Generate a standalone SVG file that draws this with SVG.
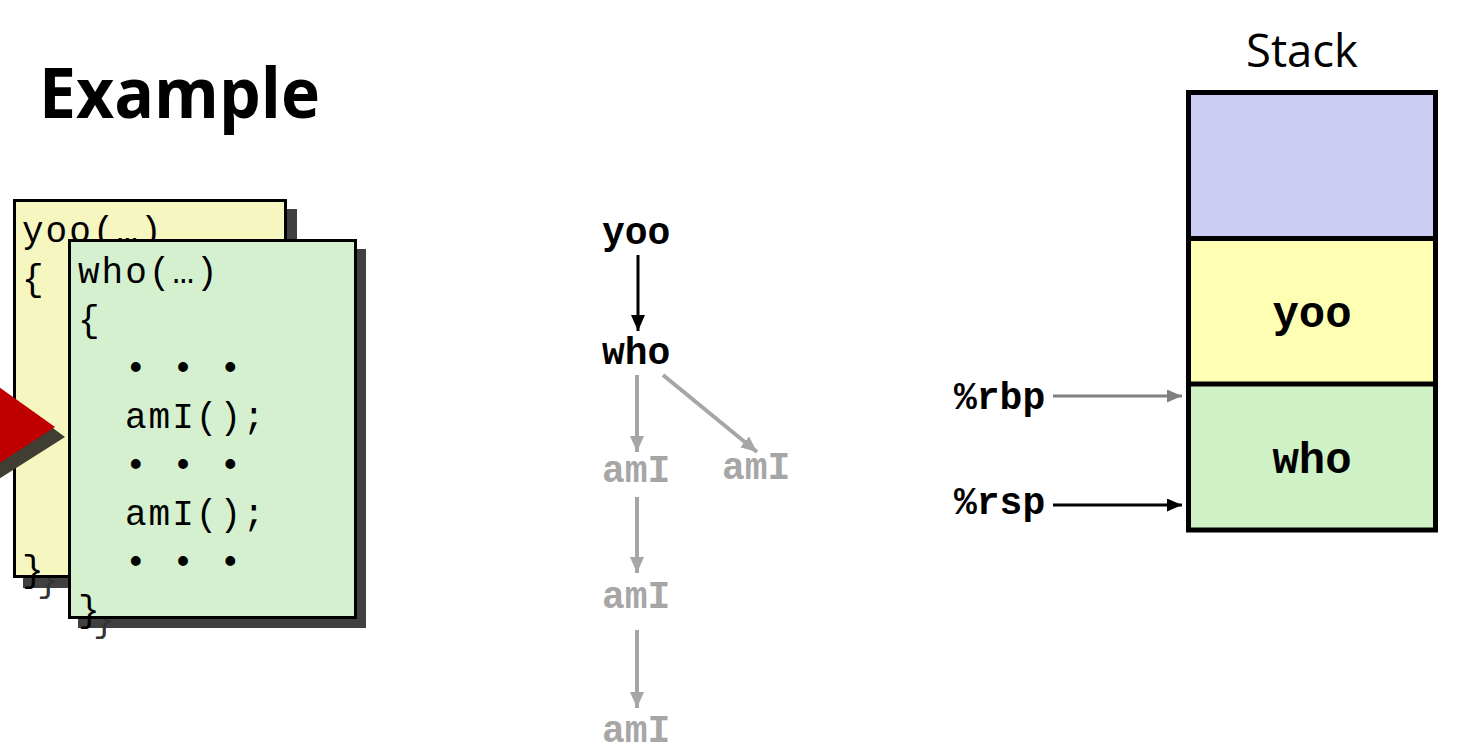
<svg xmlns="http://www.w3.org/2000/svg" width="1468" height="748" viewBox="0 0 1468 748">
<style>
.code{font-family:"Liberation Mono","Courier New",monospace;font-size:36px;letter-spacing:2px;fill:#000}
.sh{fill:#404040}
.bsh{fill:#333}
.bold{font-family:"Liberation Mono","Courier New",monospace;font-weight:bold;font-size:38px}
.gray{fill:#a6a6a6}
.big{font-family:"Liberation Mono","Courier New",monospace;font-weight:bold;font-size:44px;fill:#000}
</style>
<defs>
<marker id="ahB" markerUnits="userSpaceOnUse" markerWidth="18" markerHeight="18" refX="16" refY="7" orient="auto">
<path d="M0,0 L16,7 L0,14 Z" fill="#000"/>
</marker>
<marker id="ahG" markerUnits="userSpaceOnUse" markerWidth="18" markerHeight="18" refX="16" refY="7" orient="auto">
<path d="M0,0 L16,7 L0,14 Z" fill="#a6a6a6"/>
</marker>
<marker id="ahD" markerUnits="userSpaceOnUse" markerWidth="18" markerHeight="18" refX="15" refY="6.5" orient="auto">
<path d="M0,0 L15,6.5 L0,13 Z" fill="#808080"/>
</marker>
<marker id="ahK" markerUnits="userSpaceOnUse" markerWidth="18" markerHeight="18" refX="15" refY="6.5" orient="auto">
<path d="M0,0 L15,6.5 L0,13 Z" fill="#000"/>
</marker>
</defs>
<rect width="1468" height="748" fill="#fff"/>

<g id="title">
<text x="39" y="118" font-family="Open Sans, sans-serif" font-weight="bold" font-size="70" textLength="281" lengthAdjust="spacingAndGlyphs">Example</text>
</g>

<g id="card-yoo">
<rect x="23" y="209" width="274" height="379" class="sh"/>
<text x="37" y="591" class="code bsh">}</text>
<rect x="14.5" y="200.5" width="271" height="376" fill="#f6f6c0" stroke="#000" stroke-width="3"/>
<text x="22" y="242" class="code">yoo(…)</text>
<text x="22" y="290" class="code">{</text>
<text x="22" y="581" class="code">}</text>
</g>

<g id="pointer">
<polygon points="-50,352 65,437 -50,510" fill="#403d33"/>
<polygon points="-60,345 55,427 -60,502" fill="#c00000"/>
</g>

<g id="card-who">
<rect x="78" y="249" width="288" height="379" class="sh"/>
<text x="93" y="631" class="code bsh">}</text>
<rect x="69.5" y="240.5" width="286" height="377" fill="#d5f0cf" stroke="#000" stroke-width="3"/>
<text x="78" y="283" class="code">who(…)</text>
<text x="78" y="331" class="code">{</text>
<text x="125" y="379" class="code">• • •</text>
<text x="125" y="428" class="code">amI();</text>
<text x="125" y="476" class="code">• • •</text>
<text x="125" y="525" class="code">amI();</text>
<text x="125" y="573" class="code">• • •</text>
<text x="78" y="621" class="code">}</text>
</g>

<g id="tree-yoo"><text x="602" y="244" class="bold">yoo</text></g>
<g id="tree-who"><text x="602" y="364" class="bold">who</text></g>
<g id="tree-amI-1"><text x="602" y="482" class="bold gray">amI</text></g>
<g id="tree-amI-2"><text x="722" y="479" class="bold gray">amI</text></g>
<g id="tree-amI-3"><text x="602" y="608" class="bold gray">amI</text></g>
<g id="tree-amI-4"><text x="602" y="742" class="bold gray">amI</text></g>

<g id="stack">
<text x="1302" y="67" text-anchor="middle" font-family="Open Sans, sans-serif" font-size="46" textLength="112" lengthAdjust="spacingAndGlyphs">Stack</text>
<rect x="1188.5" y="92.5" width="247" height="146" fill="#cbcdf2"/>
<rect x="1188.5" y="238.5" width="247" height="145.5" fill="#ffffb4"/>
<rect x="1188.5" y="384" width="247" height="146" fill="#cef2c6"/>
<line x1="1188.5" y1="238.5" x2="1435.5" y2="238.5" stroke="#000" stroke-width="5"/>
<line x1="1188.5" y1="384" x2="1435.5" y2="384" stroke="#000" stroke-width="5"/>
<rect x="1188.5" y="92.5" width="247" height="437.5" fill="none" stroke="#000" stroke-width="5"/>
<text x="1312" y="327" text-anchor="middle" class="big">yoo</text>
<text x="1312" y="473" text-anchor="middle" class="big">who</text>
</g>

<g id="reg-rbp"><text x="954" y="409" class="bold">%rbp</text></g>
<g id="reg-rsp"><text x="954" y="514" class="bold">%rsp</text></g>

<g id="connectors" fill="none">
<line x1="638" y1="255" x2="638" y2="331" stroke="#000" stroke-width="3" marker-end="url(#ahB)"/>
<line x1="637" y1="375" x2="637" y2="452" stroke="#a6a6a6" stroke-width="4" marker-end="url(#ahG)"/>
<line x1="663" y1="375" x2="757" y2="452" stroke="#a6a6a6" stroke-width="4" marker-end="url(#ahG)"/>
<line x1="637" y1="497" x2="637" y2="573" stroke="#a6a6a6" stroke-width="4" marker-end="url(#ahG)"/>
<line x1="637" y1="630" x2="637" y2="708" stroke="#a6a6a6" stroke-width="4" marker-end="url(#ahG)"/>
<line x1="1053" y1="396" x2="1182" y2="396" stroke="#808080" stroke-width="3" marker-end="url(#ahD)"/>
<line x1="1053" y1="505" x2="1182" y2="505" stroke="#000" stroke-width="3" marker-end="url(#ahK)"/>
</g>
</svg>
